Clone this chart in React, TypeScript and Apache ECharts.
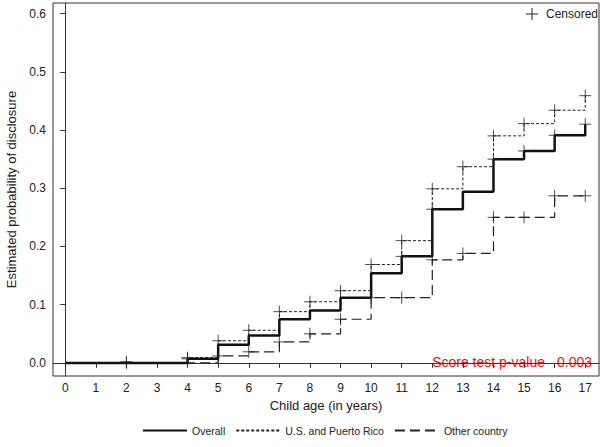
import React, { useEffect, useRef } from "react";
import * as echarts from "echarts";

// Step data: [age, estimated probability] at each step start
const overall: [number, number][] = [
  [0, 0], [4, 0.007], [5, 0.031], [6, 0.047], [7, 0.075], [8, 0.09], [9, 0.112],
  [10, 0.154], [11, 0.183], [12, 0.264], [13, 0.294], [14, 0.35], [15, 0.364],
  [16, 0.391], [17, 0.41],
];
const usPuertoRico: [number, number][] = [
  [0, 0], [4, 0.009], [5, 0.038], [6, 0.056], [7, 0.088], [8, 0.105], [9, 0.124],
  [10, 0.169], [11, 0.21], [12, 0.299], [13, 0.337], [14, 0.39], [15, 0.411],
  [16, 0.434], [17, 0.459],
];
const otherCountry: [number, number][] = [
  [0, 0], [5, 0.012], [6, 0.019], [7, 0.036], [8, 0.05], [9, 0.075], [10, 0.112],
  [12, 0.177], [13, 0.188], [14, 0.25], [16, 0.287], [17, 0.287],
];
// Censored marks
const overallCensored: [number, number][] = [
  [2, 0], [4, 0.007], [11, 0.183], [12, 0.264], [14, 0.35], [15, 0.364], [16, 0.391], [17, 0.41],
];
const usCensored: [number, number][] = [
  [2, 0.002], [4, 0.009], [5, 0.038], [6, 0.056], [7, 0.088], [8, 0.105], [9, 0.124],
  [10, 0.169], [11, 0.21], [12, 0.299], [13, 0.337], [14, 0.39], [15, 0.411], [16, 0.434], [17, 0.459],
];
const otherCensored: [number, number][] = [
  [5, 0.012], [6, 0.019], [7, 0.036], [8, 0.05], [9, 0.075], [10, 0.112], [11, 0.112],
  [12, 0.177], [13, 0.188], [14, 0.25], [15, 0.25], [16, 0.287], [17, 0.287],
];
const xTicks = [0, 1, 2, 3, 4, 5, 6, 7, 8, 9, 10, 11, 12, 13, 14, 15, 16, 17];
const yTicks = [0, 0.1, 0.2, 0.3, 0.4, 0.5, 0.6];
const seriesNames = ["Overall", "U.S. and Puerto Rico", "Other country"];

const FONT = "Liberation Sans, Arial, sans-serif";
const PLUS = "path://M0,-6L0,6M-6,0L6,0";

export default function App() {
  const ref = useRef<HTMLDivElement>(null);
  useEffect(() => {
    if (!ref.current) return;
    const chart = echarts.init(ref.current, null, { renderer: "svg" });
    const censored = (data: [number, number][]) => ({
      type: "scatter",
      data,
      symbol: PLUS,
      symbolSize: 12,
      itemStyle: { color: "none", borderColor: "#222", borderWidth: 1 },
      silent: true,
      z: 5,
    });
    chart.setOption({
      animation: false,
      grid: {
        left: 53, right: 1, top: 3, bottom: 71,
        show: true, borderColor: "#333", borderWidth: 1, containLabel: false,
        outerBoundsMode: "none",
      },
      xAxis: {
        type: "value",
        min: -0.4,
        max: 17.45,
        name: "Child age (in years)",
        nameLocation: "middle",
        nameGap: 17,
        nameTextStyle: { fontFamily: FONT, fontSize: 13, color: "#222", verticalAlign: "top" },
        axisLine: { show: true, lineStyle: { color: "#333" } },
        axisTick: { show: true, length: 5, inside: false, customValues: xTicks, lineStyle: { color: "#333" } },
        axisLabel: { customValues: xTicks, fontFamily: FONT, fontSize: 12, color: "#222", margin: 6 },
        splitLine: { show: false },
      },
      yAxis: {
        type: "value",
        min: -0.0225,
        max: 0.6182,
        name: "Estimated probability of disclosure",
        nameLocation: "middle",
        nameGap: 35,
        nameTextStyle: { fontFamily: FONT, fontSize: 13, color: "#222" },
        axisLine: { show: true, lineStyle: { color: "#333" } },
        axisTick: { show: true, length: 5, customValues: yTicks, lineStyle: { color: "#333" } },
        axisLabel: {
          customValues: yTicks, fontFamily: FONT, fontSize: 12, color: "#222", margin: 7,
          formatter: (v: number) => v.toFixed(1),
        },
        splitLine: { show: false },
      },
      legend: {
        data: seriesNames,
        bottom: 6,
        left: 137,
        itemWidth: 44,
        itemHeight: 10,
        itemGap: 10,
        itemStyle: { opacity: 0 },
        textStyle: { fontFamily: FONT, fontSize: 10.5, color: "#222" },
      },
      series: [
        {
          name: seriesNames[0], type: "line", step: "end", data: overall, symbol: "none",
          lineStyle: { color: "#111", width: 2.5, type: "solid" }, itemStyle: { color: "#111" }, z: 4,
        },
        {
          name: seriesNames[1], type: "line", step: "end", data: usPuertoRico, symbol: "none",
          lineStyle: { color: "#222", width: 1, type: [3, 2] }, itemStyle: { color: "#222" }, z: 3,
        },
        {
          name: seriesNames[2], type: "line", step: "end", data: otherCountry, symbol: "none",
          lineStyle: { color: "#222", width: 1.2, type: [10, 5] }, itemStyle: { color: "#222" }, z: 3,
        },
        censored(overallCensored),
        censored(usCensored),
        censored(otherCensored),
      ],
      graphic: [
        { type: "line", shape: { x1: 526, y1: 14, x2: 538, y2: 14 }, style: { stroke: "#222", lineWidth: 1 } },
        { type: "line", shape: { x1: 532, y1: 8, x2: 532, y2: 20 }, style: { stroke: "#222", lineWidth: 1 } },
        {
          type: "text", x: 546, y: 14,
          style: { text: "Censored", font: `12px ${FONT}`, fill: "#222", textVerticalAlign: "middle" },
        },
        {
          type: "text", x: 545, y: 362,
          style: { text: "Score test p-value", font: `14px ${FONT}`, fill: "#ee1111", textAlign: "right", textVerticalAlign: "middle" },
        },
        {
          type: "text", x: 592, y: 362,
          style: { text: "0.003", font: `14px ${FONT}`, fill: "#ee1111", textAlign: "right", textVerticalAlign: "middle" },
        },
      ],
    });
    return () => chart.dispose();
  }, []);
  return <div ref={ref} style={{ width: 600, height: 447, position: "absolute", left: 0, top: 0 }} />;
}
